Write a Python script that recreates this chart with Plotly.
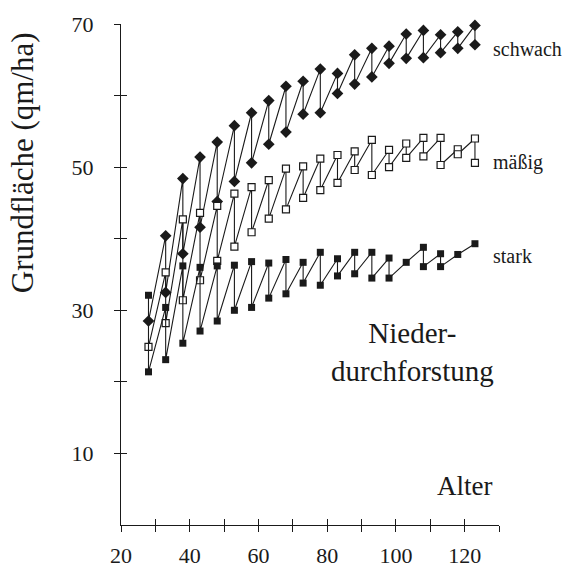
import plotly.graph_objects as go

# Stand age (years) at each thinning
ages = [28, 33, 38, 43, 48, 53, 58, 63, 68, 73, 78, 83, 88, 93, 98, 103, 108, 113, 118, 123]

# Basal area (qm/ha) before and after each thinning; None = value not plotted
# (the common starting stand of 32 qm/ha is carried by the "stark" series)
schwach_vor = [None, 40.4, 48.4, 51.4, 53.5, 55.8, 57.6, 59.3, 61.3, 62.0,
               63.7, 63.1, 65.7, 66.6, 66.9, 68.6, 69.1, 68.5, 68.9, 69.8]
schwach_nach = [28.5, 32.5, 37.9, 41.6, 45.2, 48.0, 50.6, 53.2, 54.9, 57.4,
                57.6, 60.3, 61.6, 62.6, 64.5, 65.2, 65.3, 66.0, 66.6, 67.1]

maessig_vor = [None, 35.3, 42.7, 43.6, 44.6, 46.3, 47.2, 48.2, 49.8, 50.1,
               51.2, 51.7, 52.2, 53.8, 52.4, 53.3, 54.1, 54.1, 52.5, 54.0]
maessig_nach = [24.9, 28.2, 31.4, 34.2, 36.9, 38.9, 40.9, 42.8, 44.1, 45.7,
                46.8, 47.8, 49.6, 48.9, 50.0, 51.3, 51.5, 50.3, 51.8, 50.6]

stark_vor = [32.1, 30.4, 36.2, 36.0, 36.2, 36.3, 36.8, 36.6, 37.1, 36.7,
             38.1, 37.2, 38.1, 38.1, 37.3, 36.7, 38.8, 37.9, 37.8, 39.3]
stark_nach = [21.4, 23.1, 25.4, 27.1, 28.5, 30.0, 30.4, 31.7, 32.3, 33.8,
              33.5, 34.8, 35.1, 34.5, 34.5, None, 36.1, 36.1, None, None]

x_tickvals = [20, 30, 40, 50, 60, 70, 80, 90, 100, 110, 120, 130]
x_ticktext = ["20", "", "40", "", "60", "", "80", "", "100", "", "120", ""]
y_tickvals = [10, 20, 30, 40, 50, 60, 70]
y_ticktext = ["10", "", "30", "", "50", "", "70"]

FONT = "Liberation Serif"
INK = "#1a1a1a"


def sawtooth(vor, nach):
    """Zig-zag path: vertical drop at each thinning, growth line to the next age."""
    xs, ys = [], []
    for a, v, n in zip(ages, vor, nach):
        for val in (v, n):
            if val is not None:
                xs.append(a)
                ys.append(val)
    return xs, ys


fig = go.Figure()

series = [
    ("schwach", schwach_vor, schwach_nach, dict(symbol="diamond", size=9, color=INK)),
    ("mäßig", maessig_vor, maessig_nach,
     dict(symbol="square", size=7, color="white", line=dict(color=INK, width=1.2))),
    ("stark", stark_vor, stark_nach, dict(symbol="square", size=7, color=INK)),
]

for name, vor, nach, marker in series:
    xs, ys = sawtooth(vor, nach)
    fig.add_trace(go.Scatter(
        x=xs, y=ys, mode="lines+markers", name=name,
        line=dict(color=INK, width=1.1),
        marker=marker, cliponaxis=False, showlegend=False,
    ))

# Inner half of the crossing tick marks
fig.add_trace(go.Scatter(x=[None], y=[None], xaxis="x2", yaxis="y2", showlegend=False))

axis_common = dict(showgrid=False, zeroline=False, linecolor=INK, linewidth=1.3,
                   tickcolor=INK, tickwidth=1.3, ticklen=6,
                   tickfont=dict(family=FONT, size=22, color=INK))

fig.update_layout(
    width=585, height=580,
    margin=dict(l=121, r=86, t=18, b=47),
    paper_bgcolor="white", plot_bgcolor="white",
    xaxis=dict(range=[20, 130], tickmode="array", tickvals=x_tickvals, ticktext=x_ticktext,
               ticks="outside", showline=True, ticklabelstandoff=4, **axis_common),
    yaxis=dict(range=[0, 70], tickmode="array", tickvals=y_tickvals, ticktext=y_ticktext,
               ticks="outside", showline=True, ticklabelstandoff=16, **axis_common),
    xaxis2=dict(range=[20, 130], overlaying="x", tickmode="array", tickvals=x_tickvals,
                ticks="inside", showticklabels=False, showline=False, anchor="y2",
                showgrid=False, zeroline=False, tickcolor=INK, tickwidth=1.3, ticklen=6),
    yaxis2=dict(range=[0, 70], overlaying="y", tickmode="array", tickvals=y_tickvals,
                ticks="inside", showticklabels=False, showline=False, anchor="x2",
                showgrid=False, zeroline=False, tickcolor=INK, tickwidth=1.3, ticklen=6),
)

annotations = [
    dict(text="Grundfläche (qm/ha)", x=-0.262, y=0.724, textangle=-90, size=31),
    dict(text="schwach", x=0.979, y=0.951, xanchor="left", size=20),
    dict(text="mäßig", x=0.979, y=0.724, xanchor="left", size=20),
    dict(text="stark", x=0.979, y=0.536, xanchor="left", size=20),
    dict(text="Nieder-<br>durchforstung", x=0.77, y=0.346, size=29),
    dict(text="Alter", x=0.91, y=0.078, size=27),
]
for a in annotations:
    fig.add_annotation(
        text=a["text"], xref="paper", yref="paper", x=a["x"], y=a["y"],
        xanchor=a.get("xanchor", "center"), yanchor="middle",
        textangle=a.get("textangle", 0), showarrow=False,
        font=dict(family=FONT, size=a["size"], color=INK),
    )

fig.write_html("out.html")
